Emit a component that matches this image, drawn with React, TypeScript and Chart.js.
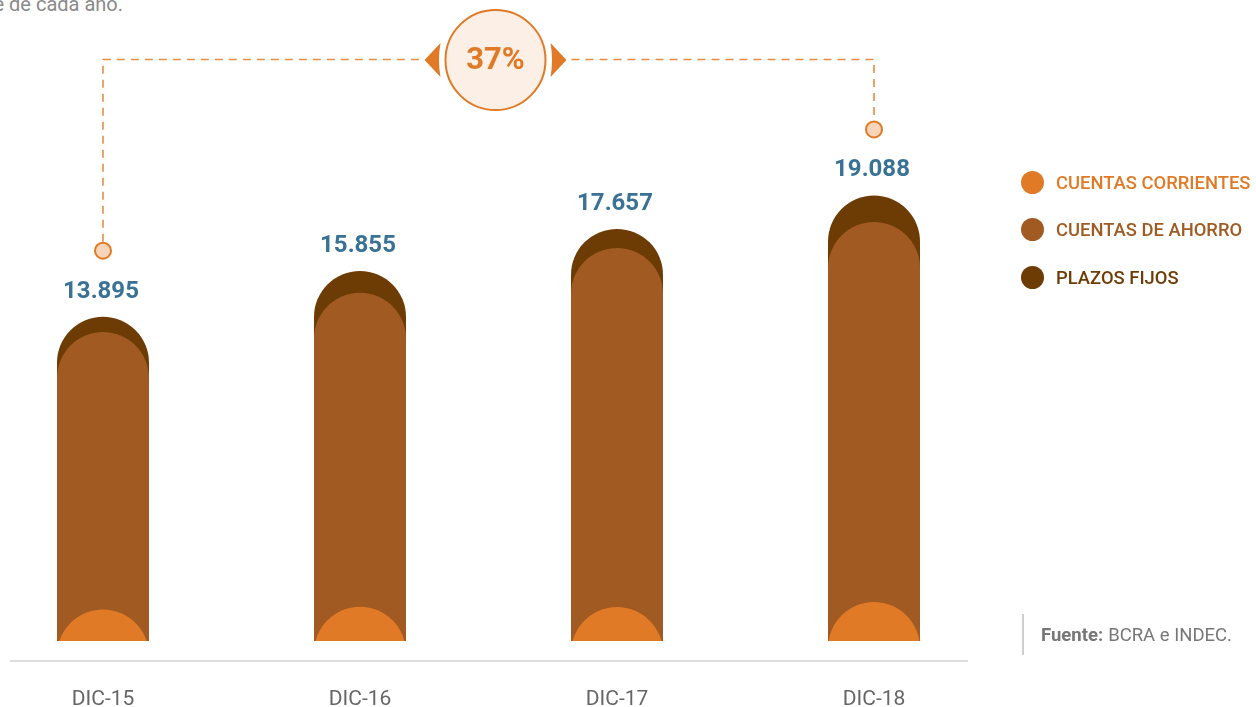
import React, { useEffect, useRef } from "react";
import { Chart, registerables } from "chart.js";

Chart.register(...registerables);

// ---------- data ----------
const categories = ["DIC-15", "DIC-16", "DIC-17", "DIC-18"];
const seriesNames = ["CUENTAS CORRIENTES", "CUENTAS DE AHORRO", "PLAZOS FIJOS"];
const corrientes = [1.35, 1.47, 1.46, 1.67];
const ahorro = [11.89, 13.45, 15.38, 16.28];
const plazosFijos = [0.655, 0.935, 0.817, 1.138];
const totalLabels = ["13.895", "15.855", "17.657", "19.088"];
const growthLabel = "37%";
const sourceBold = "Fuente:";
const sourceText = "BCRA e INDEC.";
const subtitle = "a diciembre de cada año.";

// ---------- styles ----------
const seriesColors = ["#E07A26", "#A15A22", "#6D3C05"];
const accent = "#E07A26";
const valueColor = "#3A7296";
const FONT = "Roboto, 'Open Sans', sans-serif";
const CANVAS_LEFT = -60;

const capsulePlugin = {
  id: "capsules",
  beforeDatasetsDraw() {
    return false;
  },
  afterDraw(chart: any) {
    const ctx = chart.ctx as CanvasRenderingContext2D;
    const yScale = chart.scales.y;
    const base = yScale.getPixelForValue(0);
    const n = chart.data.datasets.length;

    // bars: capsules from baseline to cumulative top, top layer drawn first
    for (let d = n - 1; d >= 0; d--) {
      const meta = chart.getDatasetMeta(d);
      meta.data.forEach((el: any) => {
        const { x, y, width } = el.getProps(["x", "y", "width"], true);
        const r = width / 2;
        const cy = y + r;
        const bottom = Math.max(base, cy);
        ctx.save();
        ctx.beginPath();
        ctx.rect(x - r - 1, 0, width + 2, base);
        ctx.clip();
        ctx.beginPath();
        ctx.moveTo(x - r, bottom);
        ctx.arc(x, cy, r, Math.PI, 0);
        ctx.lineTo(x + r, bottom);
        ctx.closePath();
        ctx.fillStyle = seriesColors[d];
        ctx.fill();
        ctx.restore();
      });
    }

    const topMeta = chart.getDatasetMeta(n - 1);
    const tops = topMeta.data.map((el: any) => el.getProps(["x", "y"], true));

    // value labels
    ctx.save();
    ctx.font = `bold 24px ${FONT}`;
    ctx.fillStyle = valueColor;
    ctx.textAlign = "center";
    ctx.textBaseline = "middle";
    tops.forEach((p: any, i: number) => {
      ctx.fillText(totalLabels[i], p.x - 2, p.y - 25);
    });
    ctx.restore();

    // x axis line
    ctx.save();
    ctx.strokeStyle = "#DDDDDD";
    ctx.lineWidth = 2;
    ctx.beginPath();
    ctx.moveTo(10 - CANVAS_LEFT, 661);
    ctx.lineTo(968 - CANVAS_LEFT, 661);
    ctx.stroke();
    ctx.restore();

    // growth bracket
    const first = tops[0];
    const last = tops[tops.length - 1];
    const lineY = 59.5;
    const cL = { x: first.x, y: first.y - 66 };
    const cR = { x: last.x, y: last.y - 66 };
    const bx = (first.x + last.x) / 2 + 7;
    const by = 60;
    const br = 50;

    ctx.save();
    ctx.strokeStyle = accent;
    ctx.globalAlpha = 0.85;
    ctx.lineWidth = 1.6;
    ctx.setLineDash([8, 6]);
    ctx.beginPath();
    ctx.moveTo(cL.x, cL.y - 9);
    ctx.lineTo(cL.x, lineY);
    ctx.lineTo(bx - br - 26, lineY);
    ctx.moveTo(bx + br + 26, lineY);
    ctx.lineTo(cR.x, lineY);
    ctx.lineTo(cR.x, cR.y - 9);
    ctx.stroke();
    ctx.restore();

    // end circles
    ctx.save();
    ctx.fillStyle = "#F7D5BA";
    ctx.strokeStyle = accent;
    ctx.lineWidth = 2;
    [cL, cR].forEach((c) => {
      ctx.beginPath();
      ctx.arc(c.x, c.y, 8, 0, Math.PI * 2);
      ctx.fill();
      ctx.stroke();
    });
    ctx.restore();

    // badge
    ctx.save();
    ctx.fillStyle = "#FBEFE6";
    ctx.strokeStyle = accent;
    ctx.lineWidth = 2;
    ctx.beginPath();
    ctx.arc(bx, by, br, 0, Math.PI * 2);
    ctx.fill();
    ctx.stroke();
    // arrows
    ctx.fillStyle = accent;
    ctx.beginPath();
    ctx.moveTo(bx - br - 21, by);
    ctx.lineTo(bx - br - 5, by - 17);
    ctx.quadraticCurveTo(bx - br - 8, by, bx - br - 5, by + 17);
    ctx.closePath();
    ctx.fill();
    ctx.beginPath();
    ctx.moveTo(bx + br + 21, by);
    ctx.lineTo(bx + br + 5, by - 17);
    ctx.quadraticCurveTo(bx + br + 8, by, bx + br + 5, by + 17);
    ctx.closePath();
    ctx.fill();
    ctx.font = `bold 31px ${FONT}`;
    ctx.textAlign = "center";
    ctx.textBaseline = "middle";
    ctx.fillText(growthLabel, bx, by + 1);
    ctx.restore();
  },
};

function BarChart() {
  const ref = useRef<HTMLCanvasElement | null>(null);
  useEffect(() => {
    if (!ref.current) return;
    const series = [corrientes, ahorro, plazosFijos];
    const chart = new Chart(ref.current, {
      type: "bar",
      data: {
        labels: categories,
        datasets: series.map((s, i) => ({
          label: seriesNames[i],
          data: s,
          backgroundColor: seriesColors[i],
          barPercentage: 1,
          categoryPercentage: 0.358,
        })),
      },
      options: {
        responsive: false,
        animation: false,
        layout: { padding: { left: 34.5, right: 37.5, top: 57.5, bottom: 0 } },
        plugins: {
          legend: { display: false },
          tooltip: { enabled: false },
        },
        scales: {
          x: {
            stacked: true,
            grid: { display: false, drawTicks: false },
            border: { display: false },
            ticks: {
              color: "#666666",
              font: { family: FONT, size: 21 },
              padding: 46,
            },
            afterFit: (s: any) => {
              s.height = 66;
            },
          },
          y: {
            stacked: true,
            display: false,
            min: 0,
            max: 25,
          },
        },
      },
      plugins: [capsulePlugin],
    });
    return () => chart.destroy();
  }, []);
  return (
    <canvas
      ref={ref}
      width={1100}
      height={707}
      style={{ position: "absolute", left: CANVAS_LEFT, top: 0, width: 1100, height: 707 }}
    />
  );
}

export default function App() {
  return (
    <div
      style={{
        position: "fixed",
        left: 0,
        top: 0,
        width: 1256,
        height: 707,
        overflow: "hidden",
        background: "#FFFFFF",
        fontFamily: FONT,
      }}
    >
      <div
        style={{
          position: "absolute",
          right: 1256 - 123,
          top: -6,
          whiteSpace: "nowrap",
          fontSize: 20,
          lineHeight: "20px",
          color: "#8A8A8A",
        }}
      >
        {subtitle}
      </div>
      <BarChart />
      {seriesNames.map((name, i) => (
        <div
          key={name}
          style={{
            position: "absolute",
            left: 1021,
            top: 182 - 11.5 + i * 47.5,
            height: 23,
            display: "flex",
            alignItems: "center",
            whiteSpace: "nowrap",
          }}
        >
          <span
            style={{
              width: 23,
              height: 23,
              borderRadius: "50%",
              background: seriesColors[i],
              display: "inline-block",
              flex: "none",
            }}
          />
          <span
            style={{
              marginLeft: 12,
              fontSize: 18.4,
              fontWeight: 500,
              color: seriesColors[i],
            }}
          >
            {name}
          </span>
        </div>
      ))}
      <div
        style={{
          position: "absolute",
          left: 1022,
          top: 614,
          height: 41,
          borderLeft: "2px solid #CFCFCF",
          paddingLeft: 17,
          display: "flex",
          alignItems: "center",
          whiteSpace: "nowrap",
          fontSize: 18.5,
          color: "#777777",
        }}
      >
        <span style={{ fontWeight: 700 }}>{sourceBold}</span>
        <span style={{ marginLeft: 5 }}>{sourceText}</span>
      </div>
    </div>
  );
}
